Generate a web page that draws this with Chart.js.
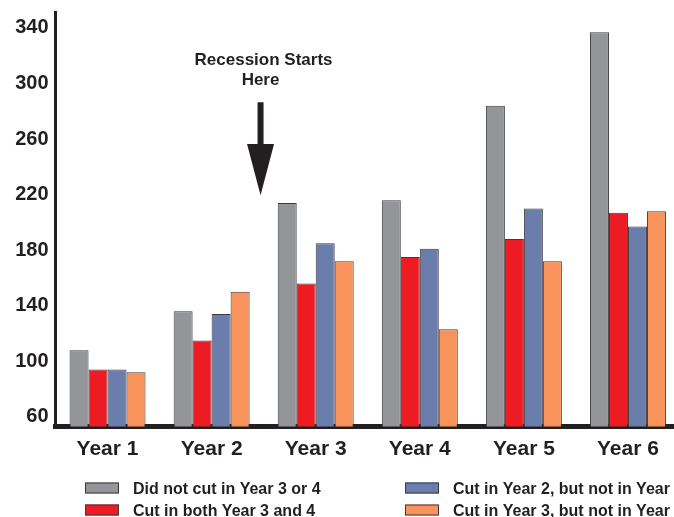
<!DOCTYPE html>
<html>
<head>
<meta charset="utf-8">
<script src="https://cdn.jsdelivr.net/npm/chart.js@4.4.1/dist/chart.umd.min.js"></script>
<style>
  html, body { margin: 0; padding: 0; background: #ffffff; overflow: hidden; }
  #wrap { width: 680px; height: 517px; }
</style>
</head>
<body>
<div id="wrap"><canvas id="c" width="680" height="517"></canvas></div>
<script>
// Categories and series values
const categories = ['Year 1', 'Year 2', 'Year 3', 'Year 4', 'Year 5', 'Year 6'];
const notCut    = [108, 136, 214, 216, 284, 337];
const cutBoth   = [94, 115, 156, 175, 188, 207];
const cutYear2  = [94, 134, 185, 181, 210, 197];
const cutYear3  = [92, 150, 172, 123, 172, 208];
const yTickValues = [60, 100, 140, 180, 220, 260, 300, 340];

const seriesLabels = [
  'Did not cut in Year 3 or 4',
  'Cut in both Year 3 and 4',
  'Cut in Year 2, but not in Year 3',
  'Cut in Year 3, but not in Year 4'
];
const seriesColors = ['#939598', '#ed1c24', '#6b7dab', '#f7935b'];

const INK = '#231f20';
const FONT = '"Liberation Sans", Arial, Helvetica, sans-serif';

// Annotation: recession marker between Year 2 and Year 3
const recession = { xIndex: 1.47, arrowTop: 286.5, headBase: 256.5, tip: 219.5,
                    lines: ['Recession Starts', 'Here'] };

const recessionPlugin = {
  id: 'recession',
  afterDatasetsDraw(chart) {
    const ctx = chart.ctx;
    const x = chart.scales.x.getPixelForValue(recession.xIndex);
    const y = chart.scales.y;
    const yTop = y.getPixelForValue(recession.arrowTop);
    const yHead = y.getPixelForValue(recession.headBase);
    const yTip = y.getPixelForValue(recession.tip);
    ctx.save();
    ctx.fillStyle = INK;
    // shaft
    ctx.fillRect(x - 3, yTop, 6, yHead - yTop + 1);
    // head
    ctx.beginPath();
    ctx.moveTo(x - 13.5, yHead);
    ctx.lineTo(x + 13.5, yHead);
    ctx.lineTo(x, yTip);
    ctx.closePath();
    ctx.fill();
    // caption
    ctx.font = 'bold 17px ' + FONT;
    ctx.textAlign = 'center';
    ctx.textBaseline = 'alphabetic';
    ctx.fillText(recession.lines[0], x + 3, yTop - 37);
    ctx.fillText(recession.lines[1], x, yTop - 17);
    ctx.restore();
  }
};

// Two-column legend under the axis
const legendPlugin = {
  id: 'twoColLegend',
  afterDraw(chart) {
    const ctx = chart.ctx;
    const cols = [85, 405];
    const rows = [482.5, 504.5];
    ctx.save();
    ctx.font = 'bold 16px ' + FONT;
    ctx.textAlign = 'left';
    ctx.textBaseline = 'alphabetic';
    chart.data.datasets.forEach((ds, i) => {
      const cx = cols[Math.floor(i / 2)];
      const ry = rows[i % 2];
      ctx.fillStyle = ds.backgroundColor;
      ctx.fillRect(cx, ry, 34, 11);
      ctx.strokeStyle = '#3b3b3b';
      ctx.lineWidth = 1;
      ctx.strokeRect(cx + 0.5, ry + 0.5, 33, 10);
      ctx.fillStyle = INK;
      ctx.fillText(ds.label, cx + 48, ry + 11);
    });
    ctx.restore();
  }
};

const datasets = [notCut, cutBoth, cutYear2, cutYear3].map((vals, i) => ({
  label: seriesLabels[i],
  data: vals,
  backgroundColor: seriesColors[i],
  borderColor: '#3b3b3b',
  borderWidth: 1,
  borderSkipped: 'bottom',
  barPercentage: 1.0,
  categoryPercentage: 0.73
}));

new Chart(document.getElementById('c'), {
  type: 'bar',
  data: { labels: categories, datasets },
  plugins: [recessionPlugin, legendPlugin],
  options: {
    responsive: false,
    animation: false,
    devicePixelRatio: 1,
    layout: { padding: { top: 12, left: 0, right: 0, bottom: 0 } },
    plugins: { legend: { display: false }, tooltip: { enabled: false } },
    scales: {
      x: {
        grid: { display: false, drawTicks: false },
        border: { display: true, color: INK, width: 5 },
        ticks: { color: INK, font: { family: FONT, size: 21, weight: 'bold' }, padding: 10 },
        afterFit(scale) {
          scale.height = 90.5;
          scale.paddingLeft = 0;
          scale.paddingRight = 0;
        }
      },
      y: {
        min: 53,
        max: 351.5,
        grid: { display: false, drawTicks: false },
        border: { display: true, color: INK, width: 3 },
        afterBuildTicks(scale) { scale.ticks = yTickValues.map(v => ({ value: v })); },
        ticks: { color: INK, font: { family: FONT, size: 20, weight: 'bold' }, padding: 7 },
        afterFit(scale) {
          scale.width = 55.5;
          scale.paddingTop = 0;
          scale.paddingBottom = 0;
        }
      }
    }
  }
});
</script>
</body>
</html>
